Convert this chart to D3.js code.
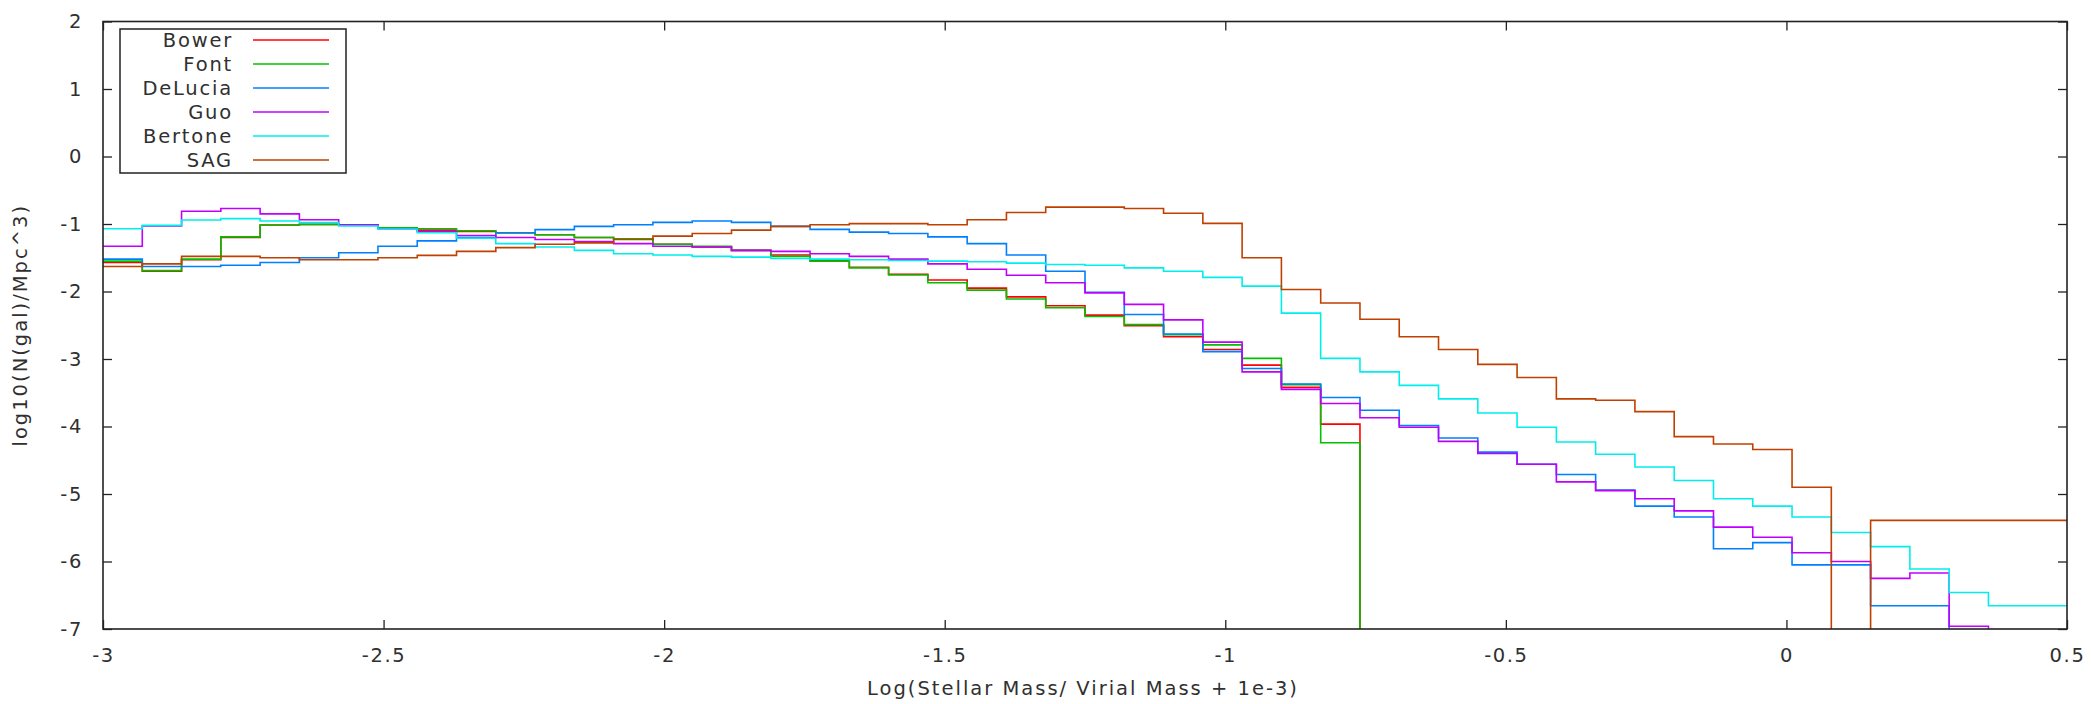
<!DOCTYPE html>
<html>
<head>
<meta charset="utf-8">
<script src="https://cdn.jsdelivr.net/npm/d3@7"></script>
<style>
  body { margin: 0; background: #fff; }
  text { font-family: "DejaVu Sans", sans-serif; fill: #303030; }
</style>
</head>
<body>
<svg width="2091" height="704"></svg>
<script>
// bin edges (51 edges, 50 bins of width 0.07)
const binEdges = [-3, -2.93, -2.86, -2.79, -2.72, -2.65, -2.58, -2.51, -2.44, -2.37,
  -2.30, -2.23, -2.16, -2.09, -2.02, -1.95, -1.88, -1.81, -1.74, -1.67,
  -1.60, -1.53, -1.46, -1.39, -1.32, -1.25, -1.18, -1.11, -1.04, -0.97,
  -0.90, -0.83, -0.76, -0.69, -0.62, -0.55, -0.48, -0.41, -0.34, -0.27,
  -0.20, -0.13, -0.06, 0.01, 0.08, 0.15, 0.22, 0.29, 0.36, 0.43, 0.50];

// log10 counts per bin, null = empty bin (falls off the bottom)
const bower = [-1.57, -1.70, -1.53, -1.20, -1.015, -1.005, -1.01, -1.06, -1.09, -1.11,
  -1.13, -1.16, -1.20, -1.22, -1.30, -1.34, -1.39, -1.46, -1.54, -1.64,
  -1.745, -1.83, -1.95, -2.08, -2.21, -2.35, -2.505, -2.67, -2.86, -3.09,
  -3.42, -3.965, null];
const font = [-1.55, -1.69, -1.52, -1.19, -1.015, -1.005, -1.01, -1.055, -1.07, -1.10,
  -1.13, -1.16, -1.20, -1.22, -1.30, -1.33, -1.39, -1.48, -1.55, -1.65,
  -1.755, -1.87, -1.98, -2.11, -2.24, -2.37, -2.49, -2.64, -2.79, -2.99,
  -3.38, -4.24, null];
const delucia = [-1.52, -1.63, -1.63, -1.61, -1.57, -1.50, -1.425, -1.33, -1.25, -1.20,
  -1.13, -1.084, -1.035, -1.01, -0.976, -0.956, -0.976, -1.035, -1.08, -1.12,
  -1.14, -1.19, -1.29, -1.46, -1.70, -2.01, -2.34, -2.63, -2.89, -3.14,
  -3.37, -3.57, -3.76, -3.985, -4.17, -4.38, -4.56, -4.71, -4.94, -5.18,
  -5.34, -5.81, -5.72, -6.05, -6.05, -6.655, -6.655, null];
const guo = [-1.33, -1.03, -0.81, -0.77, -0.85, -0.936, -1.01, -1.07, -1.11, -1.17,
  -1.20, -1.23, -1.26, -1.29, -1.33, -1.34, -1.39, -1.405, -1.44, -1.48,
  -1.52, -1.59, -1.67, -1.76, -1.87, -2.02, -2.19, -2.42, -2.75, -3.19,
  -3.45, -3.66, -3.87, -4.01, -4.22, -4.40, -4.56, -4.82, -4.95, -5.07,
  -5.25, -5.49, -5.64, -5.87, -6.00, -6.25, -6.17, -6.96, null];
const bertone = [-1.07, -1.02, -0.94, -0.92, -0.956, -0.98, -1.03, -1.075, -1.13, -1.21,
  -1.29, -1.34, -1.39, -1.44, -1.46, -1.48, -1.49, -1.51, -1.52, -1.53,
  -1.54, -1.55, -1.56, -1.58, -1.60, -1.61, -1.65, -1.70, -1.79, -1.92,
  -2.32, -2.99, -3.19, -3.39, -3.59, -3.80, -4.01, -4.23, -4.41, -4.60,
  -4.80, -5.07, -5.18, -5.34, -5.57, -5.78, -6.11, -6.46, -6.655, -6.655];
const sag = [-1.63, -1.59, -1.48, -1.48, -1.50, -1.53, -1.53, -1.50, -1.465, -1.405,
  -1.35, -1.30, -1.28, -1.23, -1.18, -1.14, -1.09, -1.035, -1.01, -0.995,
  -0.995, -1.01, -0.936, -0.83, -0.75, -0.75, -0.77, -0.84, -0.99, -1.50,
  -1.97, -2.17, -2.41, -2.67, -2.86, -3.08, -3.275, -3.59, -3.61, -3.78,
  -4.15, -4.26, -4.34, -4.90, null, -5.39, -5.39, -5.39, -5.39, -5.39];

const seriesNames = ["Bower", "Font", "DeLucia", "Guo", "Bertone", "SAG"];
const seriesValues = [bower, font, delucia, guo, bertone, sag];
const seriesColors = ["#ff0000", "#00c000", "#0080ff", "#c000ff", "#00eeee", "#c04000"];

const xTicks = [-3, -2.5, -2, -1.5, -1, -0.5, 0, 0.5];
const yTicks = [2, 1, 0, -1, -2, -3, -4, -5, -6, -7];

const plotLeft = 103, plotRight = 2067, plotTop = 21.5, plotBottom = 629;
const fontSize = "19.5px";

const svg = d3.select("svg");

const x = d3.scaleLinear().domain([-3, 0.5]).range([plotLeft, plotRight]);
const y = d3.scaleLinear().domain([-7, 2]).range([plotBottom, plotTop]);

svg.append("clipPath").attr("id", "plotclip")
  .append("rect")
  .attr("x", plotLeft).attr("y", plotTop)
  .attr("width", plotRight - plotLeft).attr("height", plotBottom - plotTop);

// plain hyphen as minus sign, like the original
const fmt = d => String(d);

// axes, ticks pointing inward on all four sides
function styleAxis(g) {
  g.select(".domain").remove();
  g.selectAll(".tick line").attr("stroke", "#222").attr("stroke-width", 1.3);
  g.selectAll(".tick text").attr("font-size", fontSize).attr("letter-spacing", "1.6px")
    .attr("font-family", "DejaVu Sans, sans-serif").attr("fill", "#303030");
}

svg.append("g")
  .attr("transform", "translate(0," + plotBottom + ")")
  .call(d3.axisBottom(x).tickValues(xTicks).tickSize(-9).tickPadding(19).tickFormat(fmt))
  .call(styleAxis);
svg.append("g")
  .attr("transform", "translate(0," + plotTop + ")")
  .call(d3.axisTop(x).tickValues(xTicks).tickSize(-9).tickFormat(""))
  .call(styleAxis);
svg.append("g")
  .attr("transform", "translate(" + plotLeft + ",0)")
  .call(d3.axisLeft(y).tickValues(yTicks).tickSize(-9).tickPadding(20).tickFormat(fmt))
  .call(styleAxis);
svg.append("g")
  .attr("transform", "translate(" + plotRight + ",0)")
  .call(d3.axisRight(y).tickValues(yTicks).tickSize(-9).tickFormat(""))
  .call(styleAxis);

// step lines
const line = d3.line()
  .x(d => x(d[0]))
  .y(d => y(d[1] === null ? -9 : d[1]))
  .curve(d3.curveStepAfter);

const lines = svg.append("g").attr("clip-path", "url(#plotclip)");
seriesValues.forEach((vals, i) => {
  const pts = vals.map((v, k) => [binEdges[k], v]);
  pts.push([binEdges[vals.length], vals[vals.length - 1]]);
  lines.append("path")
    .attr("d", line(pts))
    .attr("fill", "none")
    .attr("stroke", seriesColors[i])
    .attr("stroke-width", 1.6);
});

// frame
svg.append("rect")
  .attr("x", plotLeft).attr("y", plotTop)
  .attr("width", plotRight - plotLeft).attr("height", plotBottom - plotTop)
  .attr("fill", "none").attr("stroke", "#222").attr("stroke-width", 1.6);

// legend
const legend = svg.append("g");
legend.append("rect")
  .attr("x", 120).attr("y", 29).attr("width", 226).attr("height", 144)
  .attr("fill", "#fff").attr("stroke", "#222").attr("stroke-width", 1.5);
seriesNames.forEach((name, i) => {
  const ry = 40 + i * 24;
  legend.append("text")
    .attr("x", 233).attr("y", ry + 7)
    .attr("text-anchor", "end")
    .attr("font-size", fontSize).attr("letter-spacing", "1.8px")
    .text(name);
  legend.append("line")
    .attr("x1", 253).attr("x2", 329).attr("y1", ry).attr("y2", ry)
    .attr("stroke", seriesColors[i]).attr("stroke-width", 1.6);
});

// axis titles
svg.append("text")
  .attr("x", (plotLeft + plotRight) / 2 - 2).attr("y", 695)
  .attr("text-anchor", "middle")
  .attr("font-size", fontSize).attr("letter-spacing", "2px")
  .text("Log(Stellar Mass/ Virial Mass + 1e-3)");
svg.append("text")
  .attr("transform", "translate(27," + ((plotTop + plotBottom) / 2) + ") rotate(-90)")
  .attr("text-anchor", "middle")
  .attr("font-size", fontSize).attr("letter-spacing", "2px")
  .text("log10(N(gal)/Mpc^3)");
</script>
</body>
</html>
